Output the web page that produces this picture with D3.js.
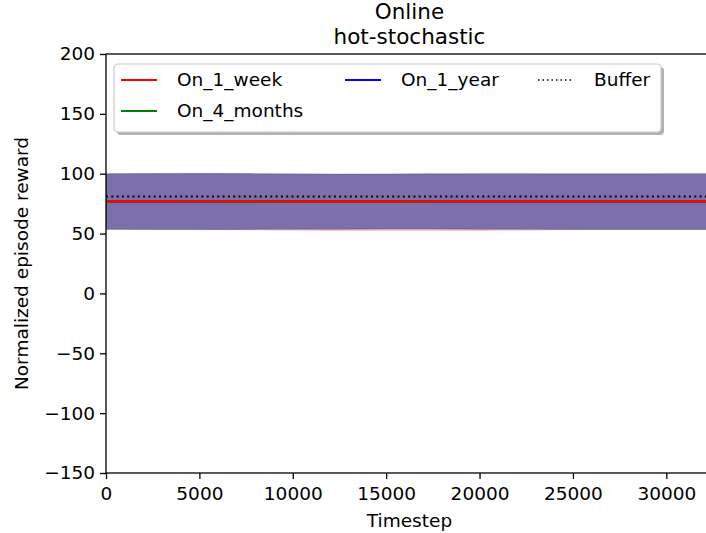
<!DOCTYPE html>
<html><head><meta charset="utf-8">
<script src="https://cdn.jsdelivr.net/npm/d3@7"></script>
<style>body{margin:0;background:#fff}svg{display:block}text{font-family:"DejaVu Sans",sans-serif;fill:#000}</style>
</head><body><svg id="c" width="706" height="533"></svg>
<script>
const timesteps = [0, 2500, 5000, 7500, 10000, 12500, 15000, 17500, 20000, 22500, 25000, 27500, 30000, 32500];
const week_mean  = [77.0, 77.0, 76.9, 76.9, 76.8, 76.8, 76.8, 76.9, 77.0, 77.0, 77.0, 76.9, 76.9, 77.0];
const week_upper = [100.0, 100.2, 100.3, 100.1, 99.8, 99.6, 99.7, 99.9, 100.0, 100.0, 99.9, 99.9, 100.0, 100.0];
const week_lower = [53.5, 53.3, 53.2, 53.0, 52.8, 52.6, 52.5, 52.5, 52.6, 52.8, 53.2, 53.4, 53.4, 53.4];
const months_mean  = [77.0, 77.0, 77.0, 76.9, 76.9, 76.9, 76.9, 77.0, 77.0, 77.0, 77.0, 77.0, 77.0, 77.0];
const months_upper = [100.0, 100.1, 100.2, 100.1, 99.8, 99.7, 99.8, 99.9, 100.0, 100.0, 99.9, 99.9, 100.0, 100.0];
const months_lower = [53.6, 53.5, 53.4, 53.5, 53.6, 53.7, 53.8, 53.8, 53.7, 53.6, 53.5, 53.4, 53.4, 53.4];
const year_mean  = [77.0, 77.0, 77.0, 77.0, 76.9, 76.9, 76.9, 77.0, 77.0, 77.0, 77.0, 77.0, 77.0, 77.0];
const year_upper = [100.0, 100.1, 100.2, 100.1, 99.9, 99.7, 99.8, 99.9, 100.0, 100.0, 99.9, 99.9, 100.0, 100.0];
const year_lower = [53.6, 53.5, 53.4, 53.5, 53.6, 53.7, 53.8, 53.8, 53.7, 53.6, 53.5, 53.4, 53.4, 53.4];
const buffer_value = 81.0;
const xTicks = [0, 5000, 10000, 15000, 20000, 25000, 30000];
const yTicks = [-150, -100, -50, 0, 50, 100, 150, 200];
const seriesNames = ["On_1_week", "On_4_months", "On_1_year"];
const seriesColors = ["#ff0000", "#008000", "#0000ff"];
const titleLines = ["Online", "hot-stochastic"];

const series = [
  {name: seriesNames[0], color: seriesColors[0], alpha: 0.28, mean: week_mean, upper: week_upper, lower: week_lower},
  {name: seriesNames[1], color: seriesColors[1], alpha: 0.28, mean: months_mean, upper: months_upper, lower: months_lower},
  {name: seriesNames[2], color: seriesColors[2], alpha: 0.33, mean: year_mean, upper: year_upper, lower: year_lower}
];

const svg = d3.select("#c");
const L = 106, R = 713, T = 54, B = 473;
const x = d3.scaleLinear().domain([0, 32500]).range([L, R]);
const y = d3.scaleLinear().domain([-150, 200]).range([B, T]);
const FS = 18.5;

svg.append("defs").append("clipPath").attr("id", "pc")
  .append("rect").attr("x", L).attr("y", T).attr("width", R - L).attr("height", B - T);
const g = svg.append("g").attr("clip-path", "url(#pc)");

const area = d3.area().x((d, i) => x(timesteps[i])).y0(d => y(d[0])).y1(d => y(d[1]));
const line = d3.line().x((d, i) => x(timesteps[i])).y(d => y(d));

series.forEach(s => {
  g.append("path").datum(s.lower.map((v, i) => [v, s.upper[i]]))
    .attr("d", area).attr("fill", s.color).attr("fill-opacity", s.alpha).attr("stroke", s.color).attr("stroke-opacity", 0.12).attr("stroke-width", 1);
});
[2, 1, 0].forEach(k => {
  const s = series[k];
  g.append("path").datum(s.mean).attr("d", line).attr("fill", "none")
    .attr("stroke", s.color).attr("stroke-width", k === 0 ? 2.3 : 2.6);
});
g.append("line").attr("x1", x(0)).attr("x2", x(32500)).attr("y1", y(buffer_value)).attr("y2", y(buffer_value))
  .attr("stroke", "#000").attr("stroke-width", 2).attr("stroke-dasharray", "2,3.3");

// axes
const xAxis = d3.axisBottom(x).tickValues(xTicks).tickSize(6).tickPadding(5).tickFormat(d3.format("d"));
const gx = svg.append("g").attr("transform", `translate(0,${B})`).call(xAxis);
const yAxis = d3.axisLeft(y).tickValues(yTicks).tickSize(6).tickPadding(5).tickFormat(d => d < 0 ? "\u2212" + Math.abs(d) : d);
const gy = svg.append("g").attr("transform", `translate(${L},0)`).call(yAxis);
[gx, gy].forEach(a => {
  a.select(".domain").remove();
  a.selectAll(".tick line").attr("stroke", "#000").attr("stroke-width", 1.3);
  a.selectAll(".tick text").attr("font-size", FS).attr("font-family", "DejaVu Sans").attr("fill", "#000");
});
gx.selectAll(".tick text").attr("dy", "0.85em");
svg.append("rect").attr("x", L).attr("y", T).attr("width", R - L).attr("height", B - T)
  .attr("fill", "none").attr("stroke", "#000").attr("stroke-width", 1.3);

// labels
svg.append("text").attr("x", (L + R) / 2).attr("y", 527).attr("text-anchor", "middle").attr("font-size", FS).text("Timestep");
svg.append("text").attr("transform", `translate(28,${(T + B) / 2}) rotate(-90)`).attr("text-anchor", "middle").attr("font-size", FS).text("Normalized episode reward");
titleLines.forEach((t, i) => {
  svg.append("text").attr("x", (L + R) / 2).attr("y", 19 + i * 25).attr("text-anchor", "middle").attr("font-size", 21.5).text(t);
});

// legend
const lg = svg.append("g");
lg.append("rect").attr("x", 117).attr("y", 67).attr("width", 547).attr("height", 68).attr("rx", 4)
  .attr("fill", "#000").attr("fill-opacity", 0.3);
lg.append("rect").attr("x", 114).attr("y", 64).attr("width", 547).attr("height", 68).attr("rx", 4)
  .attr("fill", "#fff").attr("stroke", "#ccc").attr("stroke-width", 1.2);
const items = [
  {name: seriesNames[0], color: seriesColors[0], hx: 121, tx: 177, y: 80, dash: null},
  {name: seriesNames[1], color: seriesColors[1], hx: 121, tx: 177, y: 111, dash: null},
  {name: seriesNames[2], color: seriesColors[2], hx: 345, tx: 401, y: 80, dash: null},
  {name: "Buffer", color: "#000", hx: 538, tx: 594, y: 80, dash: "1.5,3"}
];
items.forEach(it => {
  const ln = lg.append("line").attr("x1", it.hx).attr("x2", it.hx + 36).attr("y1", it.y).attr("y2", it.y)
    .attr("stroke", it.color).attr("stroke-width", it.dash ? 1.6 : 2);
  if (it.dash) ln.attr("stroke-dasharray", it.dash);
  lg.append("text").attr("x", it.tx).attr("y", it.y).attr("dy", "0.35em").attr("font-size", FS).text(it.name);
});
</script></body></html>
